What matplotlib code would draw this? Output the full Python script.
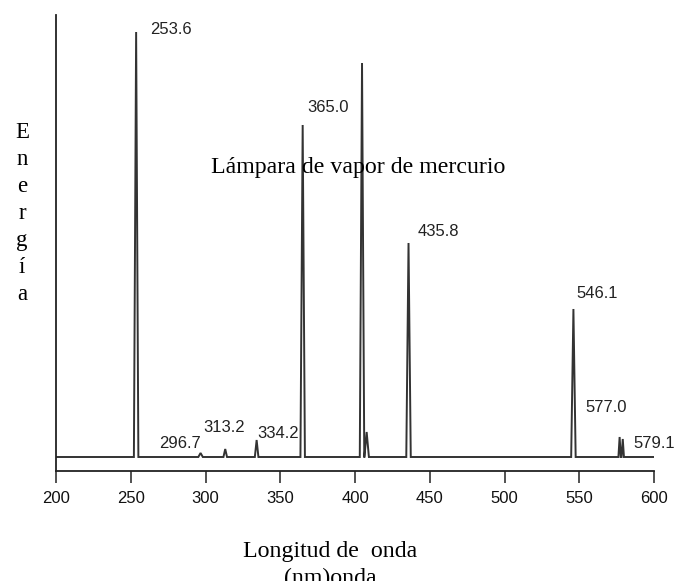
import matplotlib
matplotlib.use("Agg")
import matplotlib.pyplot as plt

# ---- data ----
peak_nm = [253.6, 296.7, 313.2, 334.2, 365.0, 404.7, 407.8, 435.8, 546.1, 577.0, 579.1]
peak_energy = [425, 4, 8, 17, 332, 394, 25, 214, 148, 20, 18]
peak_halfwidth = [1.5, 1.5, 1.2, 1.2, 1.5, 1.5, 1.5, 1.5, 1.5, 0.8, 0.8]
label_text = ["253.6", "296.7", "313.2", "334.2", "365.0", "435.8", "546.1", "577.0", "579.1"]
label_x = [262.9, 268.9, 298.3, 334.4, 367.9, 442.1, 547.8, 553.8, 585.9]
label_y = [428, 14, 30, 23, 350, 225, 164, 50, 14]
x_ticks = [200, 250, 300, 350, 400, 450, 500, 550, 600]
title = "Lámpara de vapor de mercurio"
ylabel_letters = ["E", "n", "e", "r", "g", "í", "a"]
xlabel_lines = ["Longitud de  onda", "(nm)onda"]

# ---- build spectrum trace ----
xs = [200.0]
ys = [0.0]
for w, h, hw in zip(peak_nm, peak_energy, peak_halfwidth):
    xs += [w - hw, w, w + hw]
    ys += [0.0, h, 0.0]
xs.append(600.0)
ys.append(0.0)

W, H = 676, 581
fig = plt.figure(figsize=(W / 100, H / 100), dpi=100)
fig.patch.set_facecolor("white")
ax = fig.add_axes([56 / W, (H - 471) / H, 598 / W, 456 / H])
ax.plot(xs, ys, color="#333333", lw=1.4, solid_joinstyle="miter")
ax.set_xlim(200, 600)
ax.set_ylim(-14, 442)

for s in ["top", "right"]:
    ax.spines[s].set_visible(False)
ax.spines["left"].set_linewidth(1.3)
ax.spines["bottom"].set_linewidth(1.3)
ax.spines["left"].set_color("#222222")
ax.spines["bottom"].set_color("#222222")
ax.set_yticks([])
ax.set_xticks(x_ticks)
ax.set_xticklabels([str(t) for t in x_ticks], family="Liberation Sans", fontsize=12)
ax.tick_params(axis="x", direction="out", length=8.5, width=1.1, pad=6, colors="#222222", labelcolor="#111111")

for t, x, y in zip(label_text, label_x, label_y):
    ax.text(x, y, t, family="Liberation Sans", fontsize=12, color="#222222",
            ha="left", va="center")

fig.text(358.5 / W, 1 - 173 / H, title, family="Liberation Serif", fontsize=17.2,
         ha="center", va="baseline", color="black")

# vertical y-label letters
for i, letter in enumerate(ylabel_letters):
    fig.text(22 / W, 1 - (138 + 27 * i) / H, letter, family="Liberation Serif",
             fontsize=16.5, ha="center", va="baseline")

fig.text(330 / W, 1 - 551 / H, xlabel_lines[0], family="Liberation Serif",
         fontsize=17.2, ha="center", va="center")
fig.text(330 / W, 1 - 578 / H, xlabel_lines[1], family="Liberation Serif",
         fontsize=17.2, ha="center", va="center")

fig.savefig("out.png", dpi=100)
